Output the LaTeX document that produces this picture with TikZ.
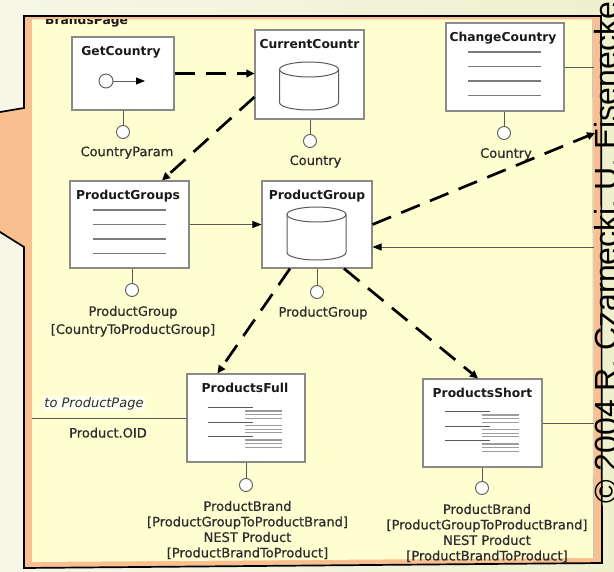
\documentclass[tikz,border=0pt]{standalone}
\usepackage{fontspec}
\setmainfont{DejaVu Sans}
\newfontfamily\portfont{DejaVu Sans}[FakeBold=0.7]
\newfontfamily\creditfont{Liberation Sans}
\usetikzlibrary{arrows.meta}

\definecolor{slidetop}{HTML}{EEF0CE}
\definecolor{slidelow}{HTML}{F6F7E7}
\definecolor{peach}{HTML}{F9BF8F}
\definecolor{panel}{HTML}{FEFED0}
\definecolor{boxline}{HTML}{8A8A8A}
\definecolor{inkgray}{HTML}{5A5A5A}
\definecolor{labelgray}{HTML}{2C2C2C}
\definecolor{ruleline}{HTML}{7A7A7A}
\definecolor{lightrule}{HTML}{9C9C9C}

\tikzset{
  unitbox/.style={draw=boxline, fill=white, line width=1.1pt, inner sep=0pt},
  unittitle/.style={font=\bfseries\fontsize{12.3}{14}\selectfont, text=black!90, inner sep=0pt, anchor=base},
  pinlabel/.style={font=\portfont\fontsize{13}{15.5}\selectfont, text=labelgray, inner sep=0pt, align=center},
  portdot/.style={circle, draw=inkgray, fill=white, line width=0.9pt, minimum size=13pt, inner sep=0pt},
  stem/.style={draw=inkgray, line width=0.9pt},
  flow/.style={draw=black, line width=2.7pt, dash pattern=on 20pt off 11pt,
    -{Triangle[length=8pt,width=7.5pt]}},
  link/.style={draw=inkgray, line width=0.9pt, -{Triangle[length=9pt,width=7pt,color=black]}},
  plainlink/.style={draw=inkgray, line width=0.9pt},
  cylline/.style={draw=inkgray, line width=1pt},
  listrule/.style={draw=ruleline, line width=1.2pt},
  tabdark/.style={draw=inkgray, line width=1pt},
  tablight/.style={draw=lightrule, line width=1.1pt},
  pics/dbcyl/.style={code={
    \draw[cylline] (0,0) ellipse[x radius=29.5, y radius=7.5];
    \draw[cylline] (-29.5,0) -- (-29.5,-#1)
      arc[start angle=180, end angle=360, x radius=29.5, y radius=7.5] -- (29.5,0);
  }},
  pics/listrules/.style={code={
    \foreach \k in {0,...,3} \draw[listrule] (0,-14.5*\k) -- (73,-14.5*\k);
  }},
  pics/tablerules/.style={code={
    \foreach \k in {0,1,2} {
      \draw[tabdark] (0,-14.5*\k) -- (45,-14.5*\k);
      \foreach \d in {3,6.7,10.4} \draw[tablight] (37,-14.5*\k-\d) -- (74,-14.5*\k-\d);
    }
  }},
}

\begin{document}
\begin{tikzpicture}[x=1pt, y=1pt]
\useasboundingbox (0,0) rectangle (614,-572);
\shade[left color=slidelow, right color=slidetop] (0,0) rectangle (614,-572);

% callout frame with its tail running off to the left
\fill[peach] (-10,-113.7) -- (24,-108) -- (24,-16) -- (601,-16) -- (602,-563)
  -- (24,-568) -- (24,-247) -- (-10,-225.75) -- cycle;
\draw[black, line width=1.7pt, line join=miter] (-10,-113.7) -- (24,-108) -- (24,-16)
  -- (601,-16) -- (602,-563) -- (24,-568) -- (24,-247) -- (-10,-225.75);

% diagram panel
\fill[panel] (32,-19.5) -- (593,-19.5) -- (594,-558) -- (32,-562) -- cycle;
\draw[gray!45, line width=0.8pt] (592.5,-19.5) -- (593.5,-558);

\begin{scope}
  \clip (32,-19.5) rectangle (594,-562);
  \node[unittitle, anchor=base west] (pagename) at (45,-24.5) {BrandsPage};
\end{scope}

% units
\node[unitbox, minimum width=102pt, minimum height=73pt] (gc)  at (123,-73.5) {};
\node[unitbox, minimum width=109pt, minimum height=89pt] (cc)  at (309.5,-74.5) {};
\node[unitbox, minimum width=118pt, minimum height=88pt] (chc) at (505,-67) {};
\node[unitbox, minimum width=119pt, minimum height=87pt] (pgs) at (129.5,-224.5) {};
\node[unitbox, minimum width=110pt, minimum height=87pt] (pg)  at (317,-224.5) {};
\node[unitbox, minimum width=118pt, minimum height=88pt] (pf)  at (246,-418) {};
\node[unitbox, minimum width=119pt, minimum height=88pt] (ps)  at (482.5,-423) {};

\node[unittitle] (gct)  at ([xshift=-2pt, yshift=-19.5pt]gc.north)  {GetCountry};
\node[unittitle] (cct)  at ([yshift=-19.5pt]cc.north)  {CurrentCountr};
\node[unittitle] (chct) at ([xshift=-2pt, yshift=-19.5pt]chc.north) {ChangeCountry};
\node[unittitle] (pgst) at ([xshift=-1.5pt, yshift=-19.5pt]pgs.north) {ProductGroups};
\node[unittitle] (pgt)  at ([yshift=-19.5pt]pg.north)  {ProductGroup};
\node[unittitle] (pft)  at ([xshift=-1pt, yshift=-19.5pt]pf.north)  {ProductsFull};
\node[unittitle] (pst)  at ([yshift=-19.5pt]ps.north)  {ProductsShort};

% unit icons
\node[portdot, minimum size=14pt] (gcin) at (106,-81) {};
\coordinate (gctip) at (145,-81);
\draw[link] (gcin) -- (gctip);
\pic at (309,-69.5) {dbcyl=33};
\pic at (316.5,-214.5) {dbcyl=38};
\pic at (468,-52) {listrules};
\pic at (93,-210) {listrules};
\pic at (208,-408) {tablerules};
\pic at (445,-412) {tablerules};

% output ports
\node[portdot] (gcp)  at (123,-132) {};
\node[portdot] (ccp)  at (310,-141) {};
\node[portdot] (chcp) at (504,-133) {};
\node[portdot] (pgsp) at (132,-290) {};
\node[portdot] (pgp)  at (317,-292) {};
\node[portdot] (pfp)  at (246,-485) {};
\node[portdot] (psp)  at (482,-488) {};
\foreach \u/\p in {gc/gcp, cc/ccp, chc/chcp, pgs/pgsp, pg/pgp, pf/pfp, ps/psp}
  \draw[stem] (\u.south -| \p.north) -- (\p.north);

% port labels
\node[pinlabel] (gcl)  at (127,-152.7) {CountryParam};
\node[pinlabel] (ccl)  at (315.5,-161.5) {Country};
\node[pinlabel] (chcl) at (506,-154.3) {Country};
\node[pinlabel, anchor=north, font=\portfont\fontsize{13}{18}\selectfont] (pgsl) at (133,-305.8)
  {ProductGroup\\{}[CountryToProductGroup]};
\node[pinlabel] (pgl)  at (323,-313) {ProductGroup};
\node[pinlabel, anchor=north] (pfl) at (247.5,-500.8)
  {ProductBrand\\{}[ProductGroupToProductBrand]\\NEST Product\\{}[ProductBrandToProduct]};
\node[pinlabel, anchor=north] (psl) at (487,-503.8)
  {ProductBrand\\{}[ProductGroupToProductBrand]\\NEST Product\\{}[ProductBrandToProduct]};

% links
\coordinate (leftin)  at (32,-418);
\coordinate (rtop)    at (595,-133);
\coordinate (rmid)    at (594,-247);
\coordinate (rchc)    at (594,-67);
\coordinate (rps)     at (594,-423);

\draw[plainlink] (leftin) -- (pf.west);
\node[pinlabel, fill=white!70!panel, inner sep=1.5pt, font=\itshape\fontsize{13}{15.5}\selectfont]
  (tolink) at (94,-403.5) {to ProductPage};
\node[pinlabel] (oidl) at (108,-432.7) {Product.OID};

\draw[plainlink] (chc.east |- rchc) -- (rchc);
\draw[plainlink] (ps.east |- rps) -- (rps);
\draw[link] (pgs.east) -- (pg.west);
\draw[link] (rmid) -- (pg.east |- rmid);

\draw[flow] (gc.east) -- (gc.east -| cc.west);
\draw[flow] ([yshift=-22.5pt]cc.west) -- ([xshift=32.5pt]pgs.north);
\draw[flow] (pg.east) -- (rtop);
\draw[flow] ([xshift=-27pt]pg.south) -- ([xshift=-28.5pt]pf.north);
\draw[flow] ([xshift=27pt]pg.south) -- ([xshift=-4.5pt]ps.north);

% credit line along the right edge
\node[rotate=90, anchor=base west, inner sep=0pt, text=black,
  font=\creditfont\fontsize{32}{36}\selectfont] (credit) at (617,-504)
  {© 2004 R. Czarnecki, U. Eisenecker};
\end{tikzpicture}
\end{document}
